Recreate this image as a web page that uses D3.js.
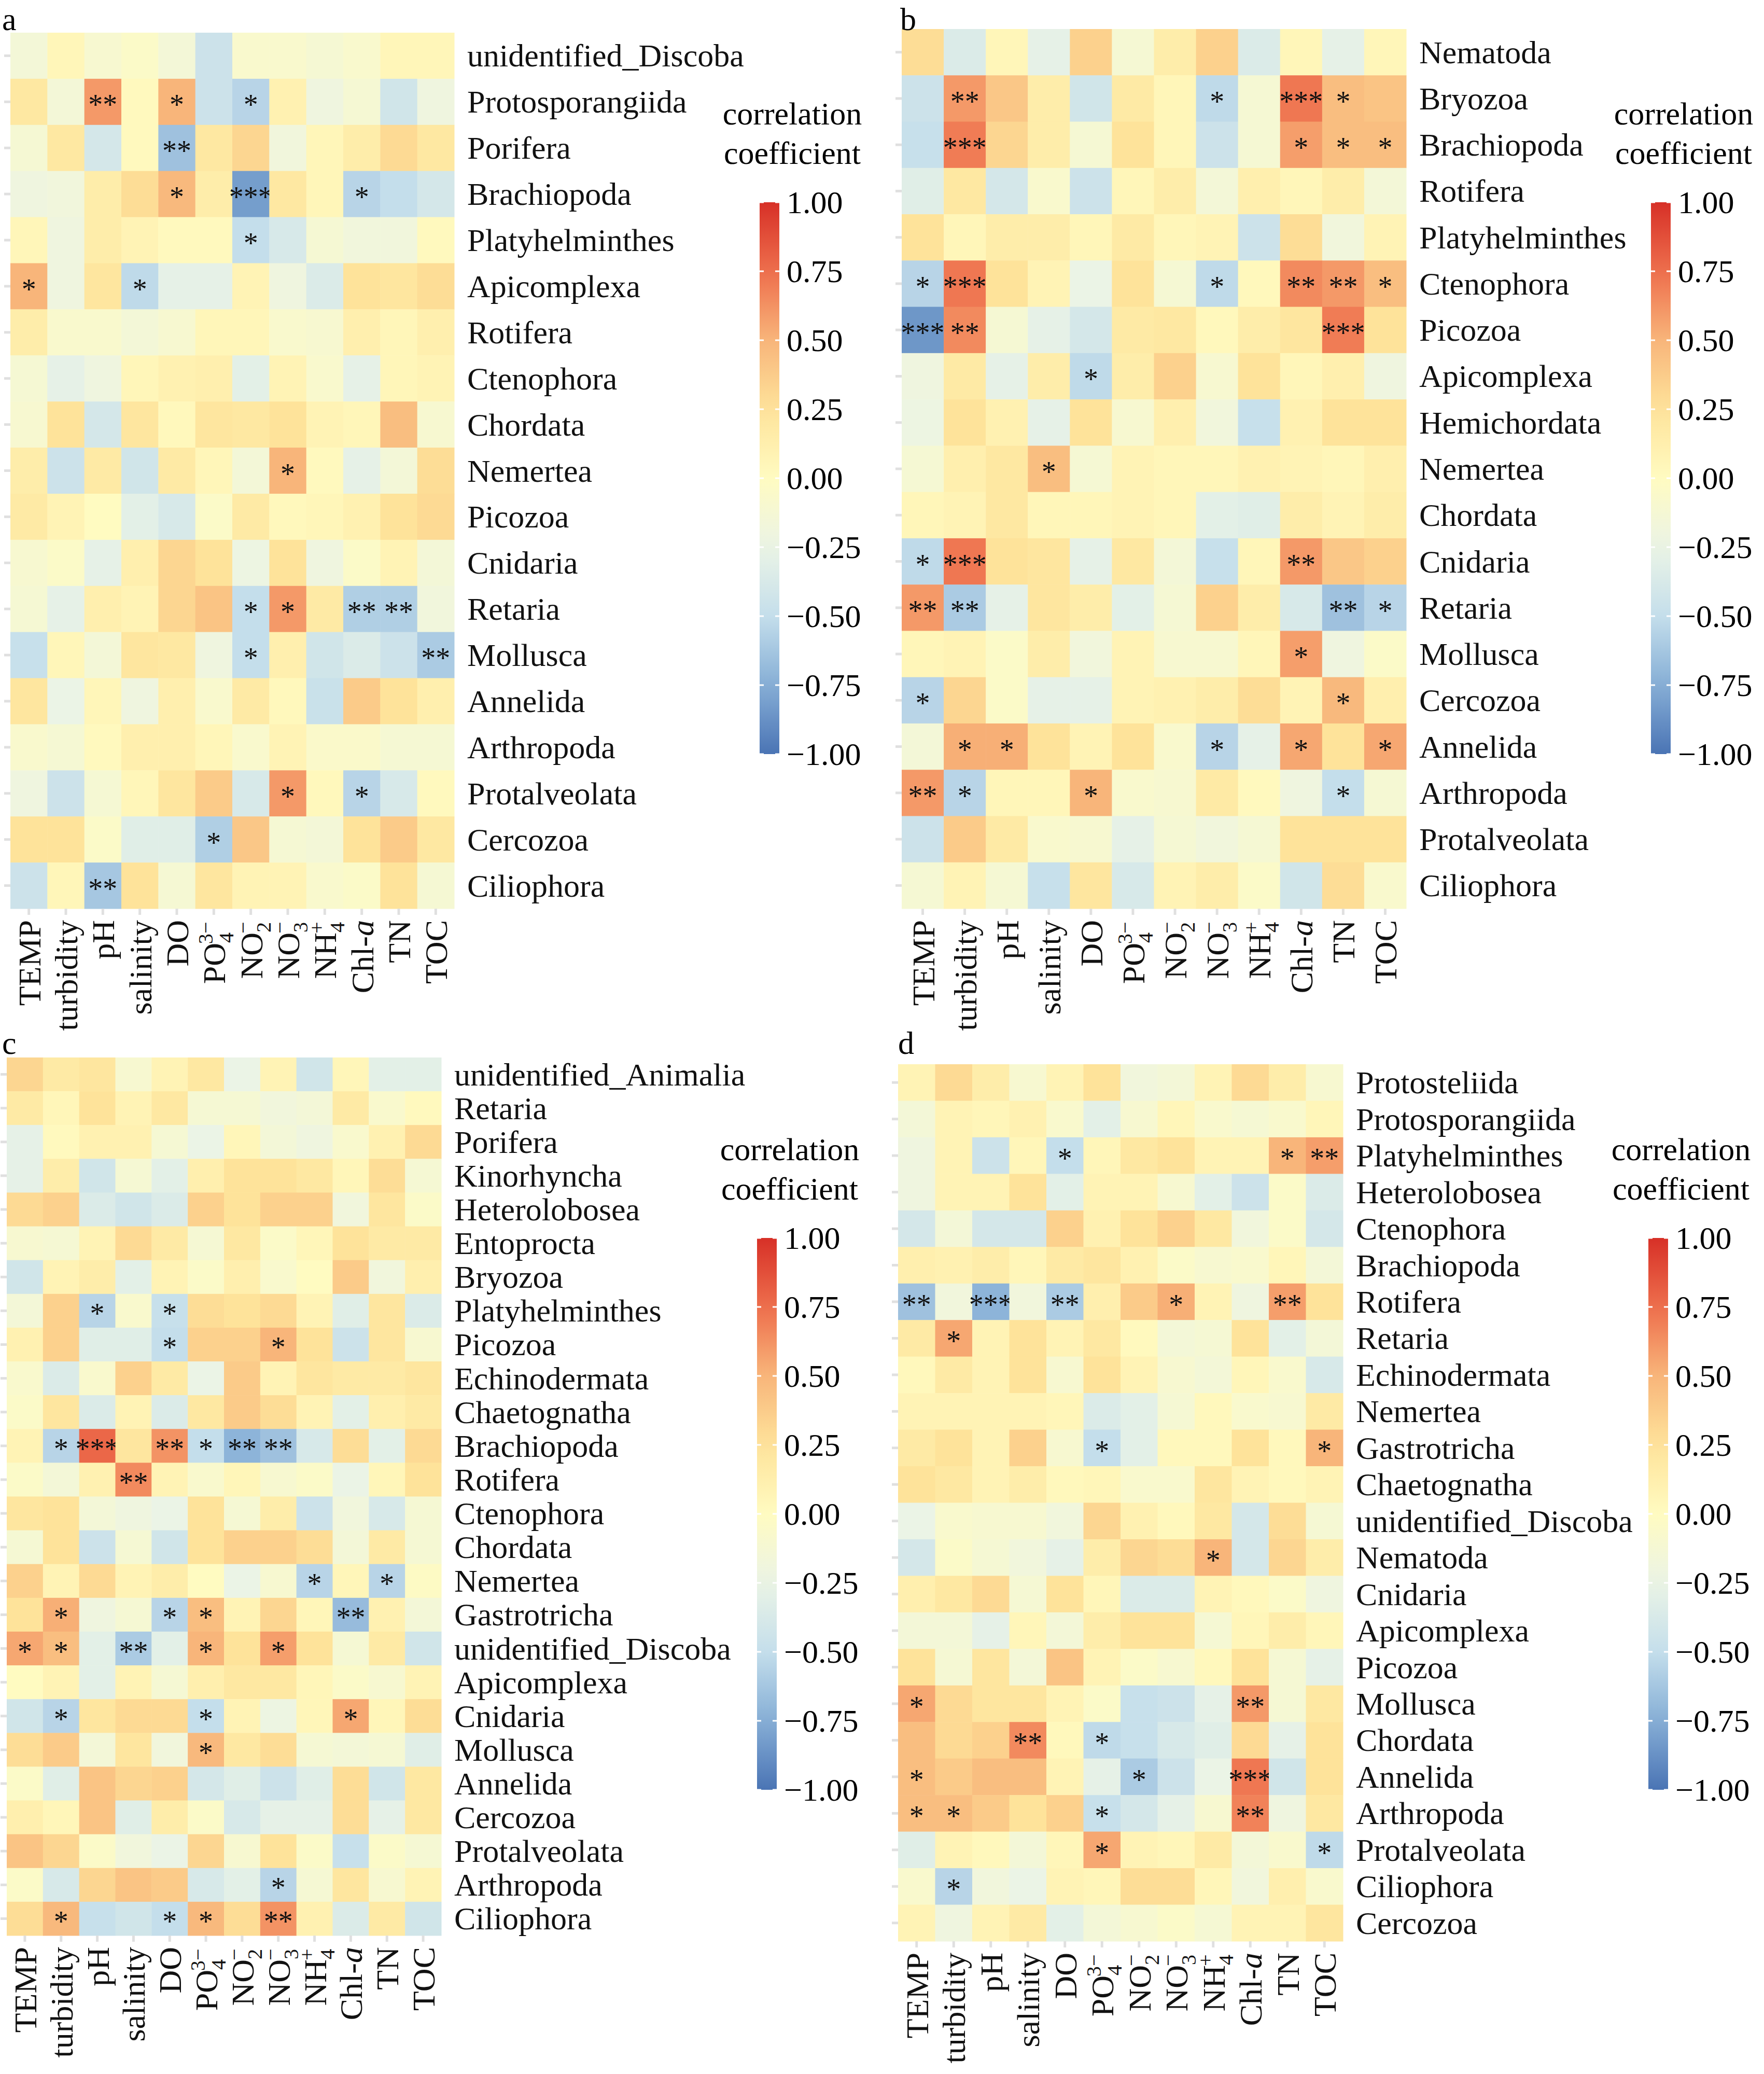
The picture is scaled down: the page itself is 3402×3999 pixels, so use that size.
<!DOCTYPE html>
<html><head><meta charset="utf-8">
<script src="https://cdn.jsdelivr.net/npm/d3@7"></script>
<style>body{margin:0;background:#fff}svg{display:block}</style>
</head><body>
<script>
const variables = ["TEMP","turbidity","pH","salinity","DO","PO4","NO2","NO3","NH4","Chl-a","TN","TOC"];
const legendTicks = [1,0.75,0.5,0.25,0,-0.25,-0.5,-0.75,-1];

const rowsA = ["unidentified_Discoba","Protosporangiida","Porifera","Brachiopoda","Platyhelminthes","Apicomplexa","Rotifera","Ctenophora","Chordata","Nemertea","Picozoa","Cnidaria","Retaria","Mollusca","Annelida","Arthropoda","Protalveolata","Cercozoa","Ciliophora"];
const valsA = [
[-0.15,0.05,-0.1,-0.05,-0.15,-0.45,-0.08,-0.08,-0.12,-0.08,0.05,0.05],
[0.2,-0.15,0.6,0.02,0.5,-0.45,-0.55,0.1,-0.2,-0.12,-0.42,-0.2],
[-0.12,0.2,-0.4,0.02,-0.65,0.2,0.32,-0.18,0.05,0.15,0.3,0.2],
[-0.2,-0.18,0.15,0.28,0.48,0.15,-0.82,0.2,0.05,-0.55,-0.5,-0.4],
[0.05,-0.2,0.15,0.08,0.02,0.02,-0.5,-0.38,-0.12,-0.18,-0.18,0.02],
[0.5,-0.2,0.22,-0.52,-0.28,-0.28,0.08,-0.2,-0.35,0.25,0.22,0.28],
[0.15,-0.08,-0.08,-0.15,-0.1,0.05,0.05,-0.08,-0.1,0.12,0.05,0.12],
[-0.12,-0.28,-0.2,0.05,0.1,0.12,-0.3,0.08,-0.08,-0.28,0.05,0.08],
[-0.1,0.25,-0.4,0.22,0.03,0.22,0.2,0.25,0.08,0.05,0.45,-0.1],
[0.15,-0.45,0.18,-0.42,0.18,0.05,-0.15,0.5,0.02,-0.28,-0.15,0.28],
[0.18,0.08,0.0,-0.3,-0.38,-0.05,0.18,0.03,0.05,0.1,0.25,0.3],
[-0.1,-0.05,-0.28,0.12,0.32,0.25,-0.22,0.25,-0.2,-0.05,0.08,-0.15],
[-0.12,-0.28,0.12,0.08,0.32,0.42,-0.5,0.6,0.18,-0.58,-0.58,-0.18],
[-0.48,0.05,-0.15,0.22,0.2,-0.2,-0.5,0.12,-0.42,-0.35,-0.45,-0.6],
[0.22,-0.25,0.05,-0.2,0.12,-0.08,0.18,0.03,-0.47,0.38,0.25,0.12],
[-0.08,-0.12,0.02,0.12,0.12,0.05,-0.08,0.08,-0.06,-0.06,-0.12,-0.12],
[-0.2,-0.45,-0.12,0.05,0.22,0.38,-0.38,0.6,0.03,-0.55,-0.38,0.02],
[0.25,0.25,-0.05,-0.32,-0.32,-0.58,0.4,-0.12,-0.15,0.25,0.38,0.2],
[-0.45,0.05,-0.62,0.25,-0.12,0.22,0.08,0.08,-0.08,-0.05,0.25,-0.12]];
const starsA = ["000000000000","002010100000","000020000000","000010300100","000000100000","100100000000","000000000000","000000000000","000000000000","000000010000","000000000000","000000000000","000000110220","000000100002","000000000000","000000000000","000000010100","000001000000","002000000000"];

const rowsB = ["Nematoda","Bryozoa","Brachiopoda","Rotifera","Platyhelminthes","Ctenophora","Picozoa","Apicomplexa","Hemichordata","Nemertea","Chordata","Cnidaria","Retaria","Mollusca","Cercozoa","Annelida","Arthropoda","Protalveolata","Ciliophora"];
const valsB = [
[0.28,-0.35,0.05,-0.28,0.35,-0.12,0.15,0.35,-0.35,0.05,-0.28,0.05],
[-0.45,0.6,0.4,0.15,-0.42,0.18,0.05,-0.52,-0.12,0.72,0.45,0.42],
[-0.48,0.7,0.32,0.15,-0.12,0.25,0.05,-0.45,-0.12,0.58,0.45,0.45],
[-0.32,0.2,-0.4,-0.08,-0.45,0.05,0.15,-0.15,0.12,0.05,0.15,-0.15],
[0.25,0.05,0.15,0.15,0.05,0.18,0.05,0.08,-0.45,0.28,-0.18,0.08],
[-0.55,0.72,0.25,0.08,-0.25,0.25,-0.12,-0.52,0.03,0.65,0.6,0.45],
[-0.85,0.65,-0.12,-0.28,-0.4,0.18,0.2,0.03,0.15,0.22,0.7,0.25],
[-0.2,0.18,-0.28,0.15,-0.52,0.15,0.35,-0.1,0.25,0.05,0.12,-0.2],
[-0.22,0.25,0.1,-0.28,0.25,-0.1,0.12,-0.18,-0.48,0.1,0.25,0.25],
[-0.12,0.12,0.2,0.45,-0.12,0.08,0.05,0.05,0.1,0.08,0.05,0.12],
[0.05,0.08,0.2,0.05,0.05,0.08,0.05,-0.3,-0.32,0.15,0.08,0.15],
[-0.52,0.72,0.25,0.22,-0.28,0.2,-0.15,-0.48,0.05,0.6,0.4,0.35],
[0.6,-0.6,-0.28,0.22,0.15,-0.3,-0.12,0.35,0.15,-0.38,-0.65,-0.55],
[0.05,0.08,-0.05,0.15,-0.18,0.08,-0.1,-0.1,0.05,0.58,-0.2,-0.05],
[-0.55,0.32,-0.05,-0.28,-0.28,0.08,0.1,0.15,0.28,0.08,0.48,0.12],
[-0.15,0.52,0.52,0.25,0.08,0.25,-0.08,-0.55,-0.28,0.55,0.25,0.55],
[0.6,-0.55,0.05,0.05,0.5,-0.08,-0.1,0.18,0.02,-0.2,-0.5,-0.12],
[-0.45,0.38,0.18,-0.08,-0.1,-0.28,-0.12,-0.18,-0.12,0.25,0.25,0.25],
[-0.12,0.08,-0.12,-0.48,0.22,-0.38,0.08,0.15,-0.05,-0.42,0.28,-0.08]];
const starsB = ["000000000000","020000010310","030000000111","000000000000","000000000000","130000010221","320000000030","000010000000","000000000000","000100000000","000000000000","130000000200","220000000021","000000000100","100000000010","011000010101","210010000010","000000000000","000000000000"];

const rowsC = ["unidentified_Animalia","Retaria","Porifera","Kinorhyncha","Heterolobosea","Entoprocta","Bryozoa","Platyhelminthes","Picozoa","Echinodermata","Chaetognatha","Brachiopoda","Rotifera","Ctenophora","Chordata","Nemertea","Gastrotricha","unidentified_Discoba","Apicomplexa","Cnidaria","Mollusca","Annelida","Cercozoa","Protalveolata","Arthropoda","Ciliophora"];
const valsC = [
[0.32,0.18,0.22,-0.1,0.08,0.2,-0.25,0.08,-0.42,0.05,-0.3,-0.3],
[0.18,0.05,0.25,0.08,0.2,-0.12,-0.12,-0.18,-0.15,0.18,-0.08,0.02],
[-0.28,0.02,0.1,0.1,-0.12,-0.25,0.05,-0.15,-0.2,-0.08,0.1,0.3],
[-0.28,0.15,-0.42,-0.12,-0.3,0.12,0.25,0.25,0.2,0.05,0.28,-0.12],
[0.3,0.35,-0.35,-0.42,-0.35,0.35,0.25,0.35,0.35,-0.18,0.22,-0.05],
[-0.1,-0.12,0.08,0.3,0.18,-0.12,0.2,-0.05,0.05,0.25,0.18,0.18],
[-0.42,0.08,0.15,-0.3,0.08,-0.05,0.12,-0.08,0.0,0.38,-0.18,0.12],
[-0.15,0.35,-0.55,-0.08,-0.48,0.28,0.25,0.3,0.08,-0.32,0.22,-0.35],
[0.1,0.35,-0.32,-0.32,-0.5,0.35,0.35,0.5,0.25,-0.45,0.22,-0.1],
[-0.08,-0.35,-0.08,0.35,0.18,-0.25,0.38,0.08,0.22,0.18,0.18,0.22],
[-0.05,0.22,-0.35,0.08,-0.35,0.2,0.38,0.28,0.08,-0.3,0.12,0.18],
[0.08,-0.55,0.78,0.22,0.62,-0.5,-0.72,-0.65,-0.38,0.28,-0.3,0.3],
[-0.05,-0.15,0.1,0.65,0.08,-0.08,0.05,-0.1,-0.05,-0.25,0.05,0.25],
[0.22,0.25,-0.15,-0.2,-0.25,0.25,-0.12,0.15,-0.45,-0.18,-0.38,-0.12],
[-0.12,0.25,-0.45,-0.12,-0.42,0.25,0.35,0.35,0.28,-0.15,0.18,-0.12],
[0.35,0.08,0.3,0.08,0.15,0.0,-0.25,-0.1,-0.55,0.05,-0.55,-0.02],
[0.25,0.52,-0.2,-0.12,-0.55,0.45,0.08,0.32,0.05,-0.68,0.1,-0.15],
[0.55,0.45,-0.3,-0.6,-0.3,0.5,0.25,0.58,0.25,-0.12,0.18,-0.42],
[0.0,0.08,-0.3,0.08,-0.12,0.12,0.2,0.2,0.05,-0.05,-0.1,0.08],
[-0.42,-0.55,0.22,0.3,0.3,-0.5,0.08,-0.22,0.05,0.55,0.05,0.28],
[0.28,0.38,-0.15,0.22,-0.18,0.48,0.2,0.28,-0.12,-0.15,-0.12,-0.32],
[-0.05,-0.32,0.42,0.32,0.35,-0.4,-0.32,-0.45,-0.32,0.28,-0.42,0.2],
[0.12,0.05,0.42,-0.32,0.15,-0.05,-0.38,-0.28,-0.28,0.28,-0.28,0.2],
[0.42,0.32,-0.05,-0.18,-0.25,0.32,-0.1,0.25,-0.05,-0.48,-0.05,-0.12],
[-0.05,-0.38,0.32,0.42,0.38,-0.38,-0.3,-0.55,-0.12,0.22,-0.1,0.08],
[0.28,0.48,-0.48,-0.42,-0.5,0.48,0.28,0.62,0.1,-0.35,0.18,-0.42]];
const starsC = ["000000000000","000000000000","000000000000","000000000000","000000000000","000000000000","000000000000","001010000000","000010010000","000000000000","000000000000","013021220000","000200000000","000000000000","000000000000","000000001010","010011000200","110201010000","000000000000","010001000100","000001000000","000000000000","000000000000","000000000000","000000010000","010011020000"];

const rowsD = ["Protosteliida","Protosporangiida","Platyhelminthes","Heterolobosea","Ctenophora","Brachiopoda","Rotifera","Retaria","Echinodermata","Nemertea","Gastrotricha","Chaetognatha","unidentified_Discoba","Nematoda","Cnidaria","Apicomplexa","Picozoa","Mollusca","Chordata","Annelida","Arthropoda","Protalveolata","Ciliophora","Cercozoa"];
const valsD = [
[0.08,0.3,0.15,-0.1,0.08,0.25,-0.18,-0.15,0.08,0.3,0.15,-0.1],
[-0.15,0.08,0.05,0.1,-0.08,-0.3,-0.1,0.05,-0.08,-0.12,-0.08,0.05],
[-0.2,0.08,-0.45,0.05,-0.5,0.05,0.2,0.25,0.08,0.08,0.5,0.58],
[-0.2,0.08,0.08,0.25,-0.3,0.08,0.08,-0.1,-0.3,-0.45,-0.05,-0.35],
[-0.4,-0.15,-0.4,-0.4,0.35,0.1,0.25,0.35,0.2,-0.18,-0.05,-0.4],
[0.12,0.1,0.15,0.05,0.18,0.22,0.1,-0.05,-0.1,-0.08,0.05,-0.15],
[-0.65,-0.18,-0.72,-0.18,-0.6,0.12,0.38,0.52,0.08,-0.2,0.58,0.25],
[0.18,0.55,0.08,0.25,0.08,0.2,0.02,-0.15,-0.12,0.25,-0.3,-0.15],
[0.03,0.18,0.08,0.25,-0.1,0.25,0.08,-0.1,-0.15,0.05,-0.08,-0.38],
[0.08,0.08,0.08,0.08,0.05,-0.35,-0.3,-0.12,0.03,-0.08,-0.1,0.18],
[0.18,0.25,0.08,0.35,-0.1,-0.5,-0.3,0.03,0.03,0.25,0.03,0.5],
[0.25,0.2,0.08,0.15,0.03,0.05,-0.08,-0.08,0.22,0.08,0.03,0.08],
[-0.25,-0.08,-0.1,-0.1,-0.18,0.32,0.1,0.03,0.2,-0.4,0.28,-0.12],
[-0.4,-0.05,-0.12,-0.18,-0.28,0.15,0.32,0.28,0.5,-0.4,0.32,0.15],
[0.12,0.2,0.3,-0.12,0.25,0.05,-0.35,-0.35,0.08,0.03,-0.05,-0.2],
[-0.15,-0.15,-0.28,0.05,-0.15,0.15,0.25,0.25,-0.12,0.05,0.15,0.05],
[0.25,-0.12,0.22,-0.15,0.42,0.08,-0.05,-0.1,0.03,0.25,-0.12,-0.28],
[0.55,0.3,0.22,0.22,0.08,-0.05,-0.48,-0.45,-0.28,0.6,-0.12,0.2],
[0.45,0.3,0.35,0.65,0.03,-0.52,-0.48,-0.38,-0.32,0.3,-0.28,0.25],
[0.45,0.38,0.45,0.45,0.08,-0.28,-0.6,-0.45,-0.25,0.72,-0.42,0.25],
[0.45,0.45,0.38,0.25,0.35,-0.48,-0.4,-0.28,-0.1,0.68,-0.2,0.2],
[-0.32,0.08,0.03,-0.15,0.05,0.55,0.08,0.05,0.18,-0.15,-0.08,-0.52],
[-0.08,-0.55,-0.18,-0.25,0.08,0.05,0.28,0.28,0.05,-0.18,0.12,-0.08],
[0.08,-0.2,0.08,0.18,-0.3,-0.15,-0.1,-0.05,-0.12,0.08,0.08,0.22]];
const starsD = ["000000000000","000000000000","000010000012","000000000000","000000000000","000000000000","203020010020","010000000000","000000000000","000000000000","000001000001","000000000000","000000000000","000000001000","000000000000","000000000000","000000000000","100000000200","000201000000","100000100300","110001000200","000001000001","010000000000","000000000000"];

const W=3402,H=3999;
const svg=d3.select("body").append("svg").attr("width",W).attr("height",H)
  .style("font-family","'Liberation Serif','Times New Roman',serif");
const color=d3.scaleLinear()
  .domain([-1,-0.75,-0.5,-0.25,0,0.25,0.5,0.75,1])
  .range(["#4a74b4","#86aed6","#c4deeb","#ebf4e6","#fffbc1","#fee39a","#f8b57a","#ee6e4c","#d73027"])
  .interpolate(d3.interpolateRgb).clamp(true);

const FS=62;
const labelParts={
 "PO4":["PO","4","3−"],
 "NO2":["NO","2","−"],
 "NO3":["NO","3","−"],
 "NH4":["NH","4","+"]
};

function panel(cfg){
  const g=svg.append("g");
  const x=d3.scaleBand().domain(variables).range([cfg.x0,cfg.x1]);
  const y=d3.scaleBand().domain(cfg.rows).range([cfg.y0,cfg.y1]);
  cfg.vals.forEach((row,i)=>row.forEach((v,j)=>{
    g.append("rect").attr("x",x(variables[j])).attr("y",y(cfg.rows[i]))
     .attr("width",x.bandwidth()+0.5).attr("height",y.bandwidth()+0.5).attr("fill",color(v));
    const n=+cfg.stars[i][j];
    if(n>0) g.append("text").attr("x",x(variables[j])+x.bandwidth()/2)
      .attr("y",y(cfg.rows[i])+y.bandwidth()/2+25).attr("text-anchor","middle")
      .attr("font-size",56).attr("fill","#111").text("*".repeat(n));
  }));
  g.append("g").attr("transform",`translate(0,${cfg.y1})`)
   .call(d3.axisBottom(x).tickSize(12).tickFormat(""))
   .call(a=>{a.select(".domain").remove();a.selectAll("line").attr("stroke","#e0e0e0").attr("stroke-width",5);});
  g.append("g").attr("transform",`translate(${cfg.x0},0)`)
   .call(d3.axisLeft(y).tickSize(12).tickFormat(""))
   .call(a=>{a.select(".domain").remove();a.selectAll("line").attr("stroke","#e0e0e0").attr("stroke-width",5);});
  cfg.rows.forEach(r=>g.append("text").attr("x",cfg.x1+25).attr("y",y(r)+y.bandwidth()/2)
    .attr("dominant-baseline","central").attr("font-size",FS).attr("fill","#111").text(r));
  variables.forEach(v=>{
    const cx=x(v)+x.bandwidth()/2;
    const t=g.append("text").attr("transform",`translate(${cx+22},${cfg.y1+22}) rotate(-90)`)
      .attr("text-anchor","end").attr("font-size",FS).attr("fill","#111");
    if(labelParts[v]){
      const p=labelParts[v];
      t.append("tspan").text(p[0]);
      t.append("tspan").attr("font-size",FS*0.65).attr("dy",16).text(p[1]);
      t.append("tspan").attr("font-size",FS*0.65).attr("dx",-FS*0.36).attr("dy",-40).text(p[2]);
      t.append("tspan").attr("font-size",FS*0.65).attr("dy",24).text("\u200a");
    } else if(v==="Chl-a"){
      t.append("tspan").text("Chl-");
      t.append("tspan").attr("font-style","italic").text("a");
    } else t.text(v);
  });
  g.append("text").attr("x",cfg.lx).attr("y",cfg.ly).attr("font-size",FS).text(cfg.letter);
  const L=g.append("g");
  L.append("text").attr("x",cfg.legX+63).attr("y",cfg.legY-150).attr("text-anchor","middle")
    .attr("font-size",FS).text("correlation");
  L.append("text").attr("x",cfg.legX+63).attr("y",cfg.legY-74).attr("text-anchor","middle")
    .attr("font-size",FS).text("coefficient");
  const id="grad"+cfg.letter;
  const grad=svg.append("defs").append("linearGradient").attr("id",id)
    .attr("x1",0).attr("y1",1).attr("x2",0).attr("y2",0);
  d3.range(0,1.0001,0.05).forEach(t=>grad.append("stop").attr("offset",t).attr("stop-color",color(-1+2*t)));
  const ly=d3.scaleLinear().domain([1,-1]).range([cfg.legY,cfg.legY+1064]);
  const bw=38;
  L.append("rect").attr("x",cfg.legX).attr("y",cfg.legY).attr("width",bw).attr("height",1064).attr("fill",`url(#${id})`);
  legendTicks.forEach(t=>{
    const yy=ly(t);
    L.append("line").attr("x1",cfg.legX).attr("x2",cfg.legX+8).attr("y1",yy).attr("y2",yy).attr("stroke","#fff").attr("stroke-width",3);
    L.append("line").attr("x1",cfg.legX+bw-8).attr("x2",cfg.legX+bw).attr("y1",yy).attr("y2",yy).attr("stroke","#fff").attr("stroke-width",3);
    L.append("text").attr("x",cfg.legX+bw+14).attr("y",yy).attr("dominant-baseline","central")
      .attr("font-size",FS).text(t<0?"−"+Math.abs(t).toFixed(2):t.toFixed(2));
  });
}

panel({letter:"a",rows:rowsA,vals:valsA,stars:starsA,x0:20,x1:876,y0:63,y1:1752,lx:4,ly:58,legX:1465,legY:390});
panel({letter:"b",rows:rowsB,vals:valsB,stars:starsB,x0:1739,x1:2712,y0:56,y1:1752,lx:1736,ly:58,legX:3184,legY:390});
panel({letter:"c",rows:rowsC,vals:valsC,stars:starsC,x0:13,x1:851,y0:2039,y1:3732,lx:4,ly:2032,legX:1460,legY:2387});
panel({letter:"d",rows:rowsD,vals:valsD,stars:starsD,x0:1732,x1:2590,y0:2052,y1:3743,lx:1732,ly:2032,legX:3179,legY:2387});
</script>
</body></html>
